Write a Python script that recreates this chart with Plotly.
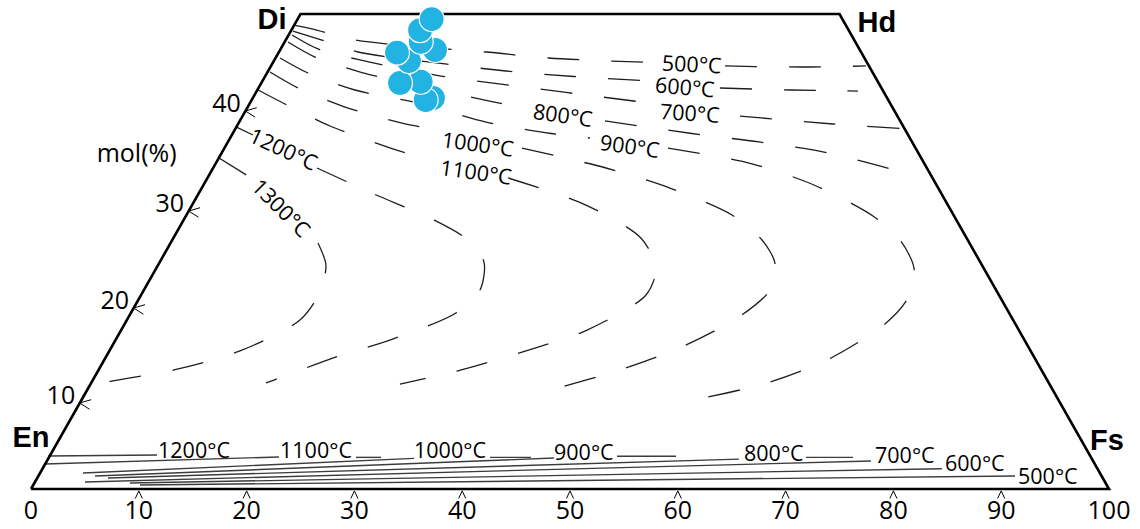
import plotly.graph_objects as go

# ---------------- data (X = position along En-Fs, Y = Wo mol%) ----------------
frame_x = [0, 25, 75, 100, 0]
frame_y = [0, 50, 50, 0, 0]

corner_labels = ["En", "Di", "Hd", "Fs"]
corner_x = [0.0, 22.36, 78.47, 99.81]
corner_y = [5.16, 49.16, 48.84, 4.84]

bottom_tick_values = [0, 10, 20, 30, 40, 50, 60, 70, 80, 90, 100]
left_tick_labels = ["10", "20", "30", "40"]
left_tick_pos = [9.05, 19.05, 29.26, 39.79]

sample_x = [37.29, 36.61, 36.15, 34.23, 35.06, 33.95, 37.48, 36.15, 36.09, 37.17]
sample_y = [41.16, 40.95, 42.87, 42.74, 45.05, 45.93, 46.21, 47.08, 48.30, 49.47]

# upper (augite) isotherms
up500_x = [24.40, 26.16, 30.05, 36.08, 42.21, 48.05, 53.89, 57.88, None, 64.38, 67.16, 71.52, 77.45]
up500_y = [48.84, 48.42, 47.26, 46.53, 46.00, 45.37, 45.05, 44.89, None, 44.53, 44.47, 44.42, 44.53]
up600_x = [24.30, 27.27, 30.33, 38.40, 44.06, 50.37, 57.42, None, 63.91, 70.40, 76.71]
up600_y = [48.21, 47.16, 46.00, 44.74, 44.00, 43.42, 42.95, None, 42.21, 42.00, 41.89]
up700_x = [24.21, 26.62, 30.52, 38.03, 43.60, 49.63, 57.42, None, 65.77, 74.39, 80.70]
up700_y = [47.79, 46.32, 45.16, 43.47, 42.63, 41.74, 40.63, None, 39.26, 38.42, 37.95]
up800_x = [23.84, 26.34, 30.70, 37.01, 42.86, 45.82, None, 53.24, 61.31, 67.53, 73.56, 81.17]
up800_y = [47.05, 45.47, 43.84, 42.21, 40.74, 40.11, None, 38.74, 37.42, 36.53, 35.47, 33.26]
up900_x = [23.10, 25.69, 30.05, 36.27, 42.21, 48.24, 51.85, None, 59.09, 66.79, 72.63, 78.10,
           80.61, 81.91, 81.35, 79.22, 73.93, 68.27, 62.15, 60.67]
up900_y = [45.37, 43.79, 42.00, 40.53, 38.63, 37.42, 36.95, None, 35.89, 34.26, 32.00, 28.74,
           26.21, 23.26, 20.11, 17.37, 13.63, 11.16, 9.53, 9.26]
up1000_x = [22.17, 24.77, 29.13, 35.16, 37.01, None, 45.55, 53.34, 59.27, 65.02, 67.81, 69.01,
            68.55, 65.95, 60.57, 54.64, 48.70, 47.21]
up1000_y = [43.89, 42.21, 40.21, 38.32, 38.00, None, 35.89, 33.79, 31.68, 28.84, 26.21, 23.79,
            20.95, 18.32, 15.05, 12.53, 10.58, 10.11]
up1100_x = [21.06, 23.56, 27.74, 33.49, 36.08, None, 44.25, 51.48, 56.58, 57.98, 57.05, 51.48,
            45.55, 39.52, 34.23]
up1100_y = [42.00, 40.53, 38.21, 35.84, 34.95, None, 32.74, 29.89, 26.42, 23.26, 20.42, 16.68,
            14.42, 12.42, 11.05]
up1200_x = [19.02, 20.59, None, 26.53, 31.72, 37.38, 40.54, 42.02, 41.65, 39.42, 33.67, 27.74, 22.54, 21.80]
up1200_y = [38.11, 37.26, None, 33.79, 31.10, 28.32, 26.21, 23.89, 20.95, 18.53, 15.84, 13.68, 11.47, 11.16]
up1300_x = [17.44, 20.13, None, 26.62, 27.36, 26.81, 24.95, 19.39, 13.45, 7.33, 5.29]
up1300_y = [34.84, 32.95, None, 25.89, 23.58, 20.74, 17.79, 14.53, 12.58, 11.32, 10.84]

up_label_text = ["500°C", "600°C", "700°C", "800°C", "900°C", "1000°C", "1100°C", "1200°C", "1300°C"]
up_label_x = [61.31, 60.67, 61.13, 49.35, 55.56, 41.46, 41.28, 23.47, 23.28]
up_label_y = [44.84, 42.32, 39.68, 39.37, 36.21, 36.42, 33.37, 35.89, 29.68]
up_label_angle = [3, 5, 4, 8, 8, 8, 8, 25, 45]

# lower (orthopyroxene) isotherms
lo1200_x = [1.58, 11.69]
lo1200_y = [3.47, 3.58]
lo1100_x = [1.30, 23.00, None, 30.15, 32.47]
lo1100_y = [2.63, 3.37, None, 3.33, 3.33]
lo1000_x = [4.82, 35.53, None, 42.58, 46.38]
lo1000_y = [1.68, 3.22, None, 3.33, 3.33]
lo900_x = [5.94, 48.51, None, 54.36, 59.83]
lo900_y = [1.37, 3.26, None, 3.44, 3.44]
lo800_x = [7.14, 65.67, None, 71.89, 76.25]
lo800_y = [1.16, 3.14, None, 3.33, 3.33]
lo700_x = [5.01, 77.92]
lo700_y = [0.74, 2.95]
lo600_x = [9.18, 84.50]
lo600_y = [0.63, 2.13]
lo500_x = [10.11, 91.28]
lo500_y = [0.42, 1.37]

lo_label_text = ["1200°C", "1100°C", "1000°C", "900°C", "800°C", "700°C", "600°C", "500°C"]
lo_label_x = [15.12, 26.44, 38.87, 51.30, 68.92, 81.07, 87.57, 94.34]
lo_label_y = [4.21, 4.21, 4.11, 4.00, 3.89, 3.58, 2.74, 1.37]

# ---------------- figure ----------------
fig = go.Figure()

upper = [(up500_x, up500_y), (up600_x, up600_y), (up700_x, up700_y), (up800_x, up800_y),
         (up900_x, up900_y), (up1000_x, up1000_y), (up1100_x, up1100_y), (up1200_x, up1200_y),
         (up1300_x, up1300_y)]
for xs, ys in upper:
    fig.add_trace(go.Scatter(x=xs, y=ys, mode="lines", hoverinfo="skip", connectgaps=False,
                             line=dict(color="#1e1e1e", width=1.3, dash="32px,32px",
                                       shape="spline", smoothing=0.8)))

lower = [(lo1200_x, lo1200_y), (lo1100_x, lo1100_y), (lo1000_x, lo1000_y), (lo900_x, lo900_y),
         (lo800_x, lo800_y), (lo700_x, lo700_y), (lo600_x, lo600_y), (lo500_x, lo500_y)]
for xs, ys in lower:
    fig.add_trace(go.Scatter(x=xs, y=ys, mode="lines", hoverinfo="skip", connectgaps=False,
                             line=dict(color="#3c3c3c", width=1.4)))

# frame
fig.add_trace(go.Scatter(x=frame_x, y=frame_y, mode="lines", hoverinfo="skip",
                         line=dict(color="black", width=2.6)))

# bottom carets
cx, cy = [], []
for v in bottom_tick_values[1:-1]:
    cx += [v - 0.33, v, v + 0.33, None]
    cy += [-1.0, -0.2, -1.0, None]
fig.add_trace(go.Scatter(x=cx, y=cy, mode="lines", hoverinfo="skip",
                         line=dict(color="black", width=1)))

# left tick marks
lx, ly = [], []
for p in left_tick_pos:
    x0 = p / 2
    lx += [x0 + 1.05, x0, x0 + 0.9, None]
    ly += [p + 0.35, p, p - 0.65, None]
fig.add_trace(go.Scatter(x=lx, y=ly, mode="lines", hoverinfo="skip",
                         line=dict(color="black", width=1)))

# tick labels
fig.add_trace(go.Scatter(x=bottom_tick_values, y=[-2.53] * len(bottom_tick_values), mode="text",
                         text=[str(v) for v in bottom_tick_values], hoverinfo="skip",
                         textfont=dict(family="Open Sans", size=25, color="black")))
fig.add_trace(go.Scatter(x=[p / 2 - 1.75 for p in left_tick_pos], y=[p + 0.55 for p in left_tick_pos],
                         mode="text", text=left_tick_labels, hoverinfo="skip",
                         textfont=dict(family="Open Sans", size=25, color="black")))
fig.add_trace(go.Scatter(x=[9.8], y=[35.1], mode="text", text=["mol(%)"], hoverinfo="skip",
                         textfont=dict(family="Open Sans", size=25, color="black")))

# corner labels
fig.add_trace(go.Scatter(x=corner_x, y=corner_y, mode="text", hoverinfo="skip",
                         text=["<b>%s</b>" % c for c in corner_labels],
                         textfont=dict(family="Liberation Sans", size=29, color="black")))

# samples
fig.add_trace(go.Scatter(x=sample_x, y=sample_y, mode="markers", hoverinfo="skip",
                         marker=dict(size=25, color="#22b3e2", line=dict(color="white", width=1.2))))

annotations = []
for t, x, y, a in zip(up_label_text, up_label_x, up_label_y, up_label_angle):
    annotations.append(dict(x=x, y=y, text=t, textangle=a, showarrow=False, xanchor="center",
                            yanchor="middle", font=dict(family="Open Sans", size=21.5, color="black")))
for t, x, y in zip(lo_label_text, lo_label_x, lo_label_y):
    annotations.append(dict(x=x, y=y, text=t, showarrow=False, xanchor="center",
                            yanchor="middle", font=dict(family="Open Sans", size=21.5, color="black")))

fig.update_layout(
    width=1140, height=529,
    margin=dict(l=0, r=0, t=0, b=0),
    paper_bgcolor="white", plot_bgcolor="white",
    showlegend=False,
    xaxis=dict(range=[-2.876, 102.876], visible=False, fixedrange=True),
    yaxis=dict(range=[-4.211, 51.474], visible=False, fixedrange=True),
    annotations=annotations,
)

fig.write_html("out.html", config={"displayModeBar": False},
               post_script="document.body.style.margin='0px';")
